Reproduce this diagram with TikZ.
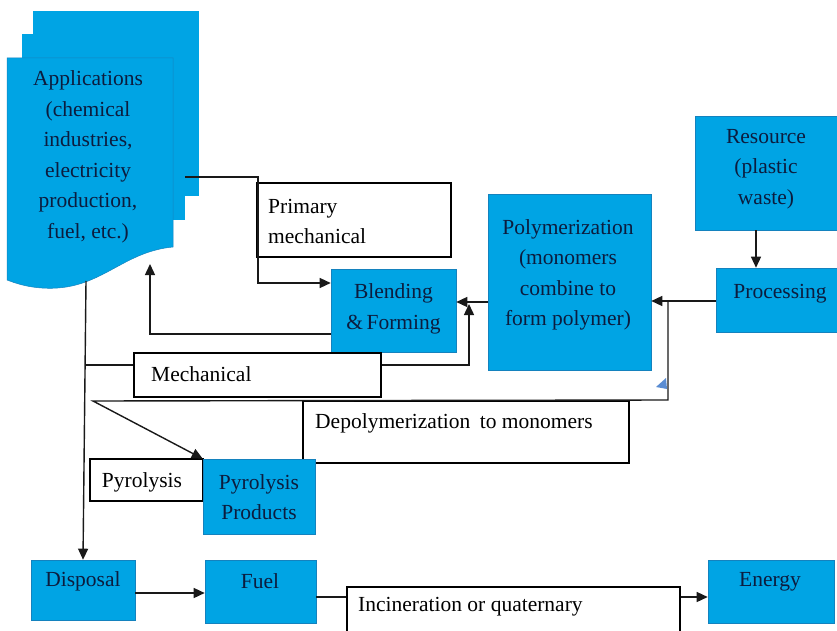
\documentclass[tikz,border=0pt]{standalone}
\usepackage{fontspec}
\setmainfont{Liberation Serif}
\usetikzlibrary{arrows.meta,calc}
\definecolor{boxblue}{RGB}{0,164,228}
\definecolor{edgeblue}{RGB}{20,130,190}
\definecolor{navy}{RGB}{12,28,62}
\definecolor{lineink}{RGB}{25,25,25}
\definecolor{tipblue}{RGB}{90,140,210}
\tikzset{
  bluebox/.style={draw=edgeblue, line width=0.6pt, fill=boxblue, rectangle, inner sep=0pt},
  whitebox/.style={draw=black, line width=1.2pt, fill=white, rectangle, inner sep=0pt},
  bluetxt/.style={text=navy, align=center, inner sep=0pt, font=\fontsize{21.5}{30.5}\selectfont},
  blacktxt/.style={text=black, align=left, inner sep=0pt, font=\fontsize{21.5}{30}\selectfont},
  conn/.style={draw=lineink, line width=1.4pt},
  arr/.style={conn, -{Triangle[length=11pt,width=10pt]}}
}
\begin{document}
\begin{tikzpicture}[x=1pt,y=-1pt]
\useasboundingbox (0,0) rectangle (837,631);
\clip (0,0) rectangle (837,631);
% Applications page stack
\fill[boxblue] (33,11) rectangle (199,196);
\fill[boxblue] (22,34) rectangle (185,220);
\filldraw[fill=boxblue, draw=edgeblue, line width=0.5pt] (7,58) -- (173,58) -- (173,247)
  .. controls (120,252) and (100,292) .. (42,288)
  .. controls (26,287) and (15,283) .. (7,280) -- cycle;
\node[bluetxt] (appst) at (88,157) {Applications\\(chemical\\industries,\\electricity\\production,\\fuel, etc.)};
\coordinate (appsR) at (185,177);
\coordinate (appsB) at (86,281);
\coordinate (appsTip) at (150,264);

% boxes
\node[whitebox, minimum width=194pt, minimum height=74pt] (prim) at (354,220) {};
\node[bluebox, minimum width=125pt, minimum height=83pt] (blend) at (393.5,310.5) {};
\node[bluebox, minimum width=163pt, minimum height=176pt] (poly) at (569.5,282) {};
\node[bluebox, minimum width=142pt, minimum height=114pt] (res) at (766,173) {};
\node[bluebox, minimum width=122pt, minimum height=64pt] (proc) at (777,300) {};
\node[whitebox, minimum width=247pt, minimum height=44pt] (mech) at (257.5,375) {};
\node[whitebox, minimum width=326pt, minimum height=62pt] (depo) at (466,432) {};
\node[whitebox, minimum width=113pt, minimum height=42pt] (pyw) at (146.5,480) {};
\node[bluebox, minimum width=112pt, minimum height=75pt] (pyp) at (259,496.5) {};
\node[bluebox, minimum width=104pt, minimum height=60pt] (disp) at (83,590) {};
\node[bluebox, minimum width=111pt, minimum height=63pt] (fuel) at (260.5,591.5) {};
\node[whitebox, minimum width=333pt, minimum height=58pt] (inc) at (513.5,616) {};
\node[bluebox, minimum width=126pt, minimum height=63pt] (energy) at (771,591.5) {};

% texts
\node[blacktxt, anchor=west] (primt) at (268,221) {Primary\\mechanical};
\node[bluetxt] (blendt) at (393.5,309) {Blending\\\&\,Forming};
\node[bluetxt] (polyt) at (568,275) {Polymerization\\(monomers\\combine to\\form polymer)};
\node[bluetxt] (rest) at (766,169) {Resource\\(plastic\\waste)};
\node[bluetxt] (proct) at (780,294) {Processing};
\node[blacktxt, anchor=west] (mecht) at (151,374) {Mechanical};
\node[blacktxt, anchor=west] (depot) at (315,423) {Depolymerization\hspace{4pt} to monomers};
\node[blacktxt, anchor=center] (pywt) at (142,482) {Pyrolysis};
\node[bluetxt] (pypt) at (259,497) {Pyrolysis\\Products};
\node[bluetxt] (dispt) at (83,581) {Disposal};
\node[bluetxt] (fuelt) at (260,581) {Fuel};
\node[blacktxt, anchor=west] (inct) at (358,607) {Incineration or quaternary};
\node[bluetxt] (energyt) at (770,582) {Energy};

% connectors
\draw[arr] (appsR) -- (258,177) -- (258,283) -- (blend.west |- 0,283);
\draw[arr] (blend.west |- 0,334) -- (150,334) -- (appsTip);
\draw[arr] (appsB) -- (disp.north);
\draw[conn] (86,365) -- (mech.west |- 0,365);
\coordinate (upTip) at (469,304);
\draw[arr] (mech.east |- 0,365) -- (469,365) -- (upTip);
\draw[arr] (poly.west |- 0,302) -- (blend.east |- 0,302);
\draw[arr] (756,0 |- res.south) -- (756,0 |- proc.north);
\draw[arr] (proc.west |- 0,301) -- (poly.east |- 0,301);
\draw[arr] (668,301) -- (668,400) -- (93,401) -- (pyp.north west);
\draw[arr] (disp.east |- 0,593) -- (fuel.west |- 0,593);
\draw[conn] (fuel.east |- 0,597) -- (inc.west |- 0,597);
\draw[arr] (inc.east |- 0,597) -- (energy.west |- 0,597);
% small marker
\fill[tipblue] (656,387) -- (666,378) -- (667,389) -- cycle;
\end{tikzpicture}
\end{document}
